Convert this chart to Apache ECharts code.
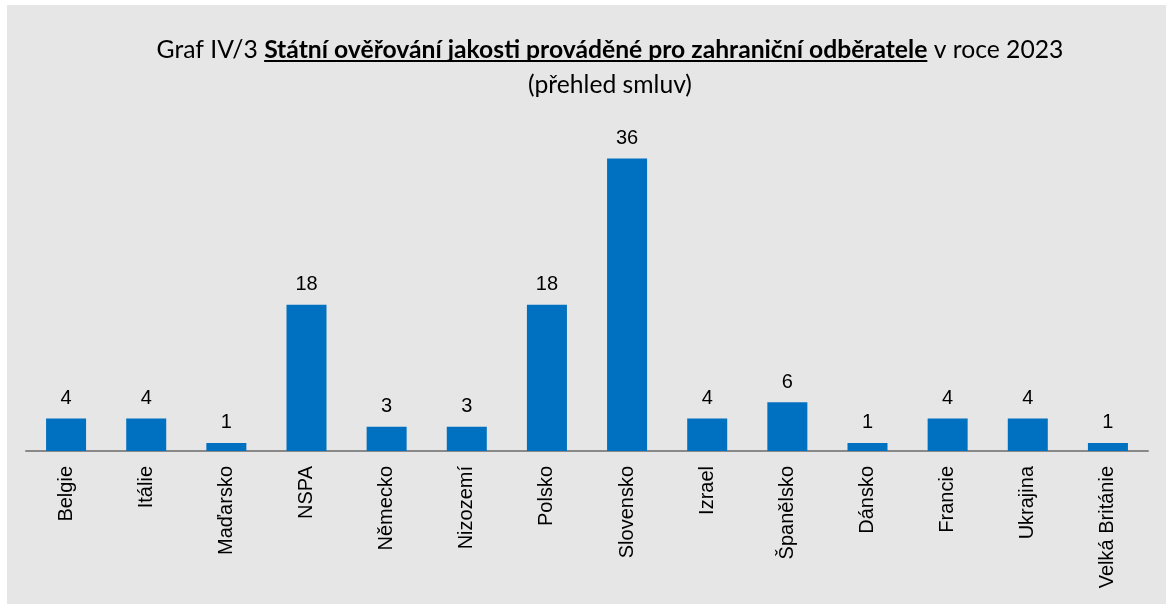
<!DOCTYPE html>
<html>
<head>
<meta charset="utf-8">
<script src="https://cdn.jsdelivr.net/npm/echarts@6/dist/echarts.min.js"></script>
<style>
  html, body { margin: 0; padding: 0; background: #fff; }
  #main { position: absolute; left: 7px; top: 5px; width: 1159px; height: 599px; }
</style>
</head>
<body>
<div id="main"></div>
<script>
// data
const countries = ['Belgie', 'Itálie', 'Maďarsko', 'NSPA', 'Německo', 'Nizozemí', 'Polsko',
  'Slovensko', 'Izrael', 'Španělsko', 'Dánsko', 'Francie', 'Ukrajina', 'Velká Británie'];
const contracts = [4, 4, 1, 18, 3, 3, 18, 36, 4, 6, 1, 4, 4, 1];

const titlePre = 'Graf IV/3 ';
const titleBold = 'Státní ověřování jakosti prováděné pro zahraniční odběratele';
const titlePost = ' v roce 2023';
const subTitle = '(přehled smluv)';

const titleFont = 'Lato';
const titleX = 603;
const titleTop = 28;

// size the title so the first line spans the same width as in the reference,
// and put the underline under the bold part only
const ctx = document.createElement('canvas').getContext('2d');
function textWidth(str, weight, size) {
  ctx.font = weight + ' ' + size + 'px ' + titleFont;
  return ctx.measureText(str).width;
}
const refSize = 100;
const fullWidth = textWidth(titlePre, 'normal', refSize) + textWidth(titleBold, 'bold', refSize) +
  textWidth(titlePost, 'normal', refSize);
const titleSize = Math.round(refSize * 909 / fullWidth * 10) / 10;
const wPre = textWidth(titlePre, 'normal', titleSize);
const wBold = textWidth(titleBold, 'bold', titleSize);
const wPost = textWidth(titlePost, 'normal', titleSize);
const lineStart = titleX - (wPre + wBold + wPost) / 2 + wPre;

const myChart = echarts.init(document.getElementById('main'));
const option = {
  backgroundColor: '#e6e6e6',
  animation: false,
  title: {
    left: titleX,
    top: titleTop,
    padding: 0,
    textAlign: 'center',
    text: '{n|' + titlePre + '}{b|' + titleBold + '}{n|' + titlePost + '}\n{n|' + subTitle + '}',
    textStyle: {
      fontWeight: 'normal',
      rich: {
        n: { fontFamily: titleFont, fontSize: titleSize, fontWeight: 'normal', color: '#000', lineHeight: 35 },
        b: { fontFamily: titleFont, fontSize: titleSize, fontWeight: 'bold', color: '#000', lineHeight: 35 }
      }
    }
  },
  graphic: [{
    type: 'line',
    shape: { x1: lineStart, y1: 56, x2: lineStart + wBold, y2: 56 },
    style: { stroke: '#000', lineWidth: 2 }
  }],
  grid: { left: 19, right: 18, top: 121, bottom: 153 },
  xAxis: {
    type: 'category',
    data: countries,
    axisLine: { lineStyle: { color: '#898989', width: 2 } },
    axisTick: { length: 6, lineStyle: { color: '#898989', width: 2 } },
    axisLabel: {
      rotate: 90,
      interval: 0,
      margin: 15,
      fontFamily: 'Liberation Sans',
      fontSize: 20,
      color: '#000'
    }
  },
  yAxis: {
    type: 'value',
    min: 0,
    max: 40,
    show: false
  },
  series: [{
    type: 'bar',
    data: contracts,
    barWidth: 40,
    itemStyle: { color: '#0070c0' },
    label: {
      show: true,
      position: 'top',
      distance: 10,
      fontFamily: 'Liberation Sans',
      fontSize: 20,
      color: '#000'
    }
  }]
};
myChart.setOption(option);
</script>
</body>
</html>
